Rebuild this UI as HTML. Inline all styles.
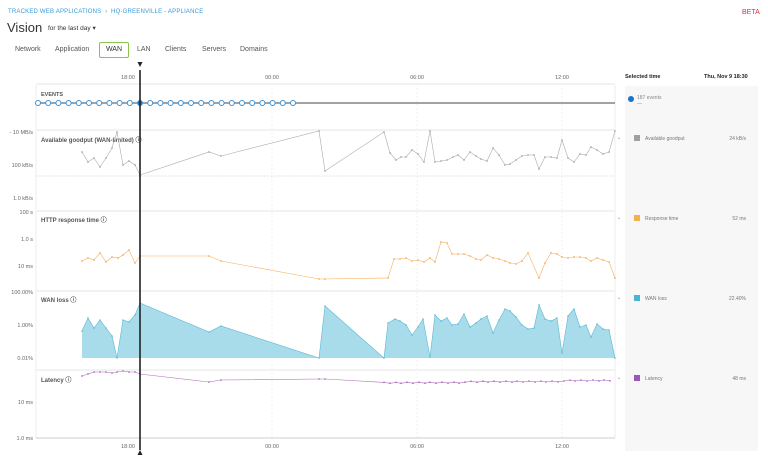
<!DOCTYPE html>
<html><head><meta charset="utf-8"><style>
body{margin:0;width:768px;height:465px;background:#fff;font-family:"Liberation Sans",sans-serif;overflow:hidden;position:relative}
.t{position:absolute;white-space:nowrap}
</style></head><body>
<div class="t" style="left:8px;top:9px;font-size:6px;color:#3a9ad9;letter-spacing:.2px">TRACKED WEB APPLICATIONS &nbsp;›&nbsp; HQ-GREENVILLE - APPLIANCE</div>
<div class="t" style="left:742px;top:9px;font-size:7px;color:#d9303a">BETA</div>
<div class="t" style="left:7px;top:20px;font-size:13px;color:#333">Vision</div>
<div class="t" style="left:48px;top:24px;font-size:6.5px;color:#333">for the last day ▾</div>
<div class="t" style="left:15px;top:46px;font-size:7px;color:#555">Network</div>
<div class="t" style="left:55px;top:46px;font-size:7px;color:#555">Application</div>
<div class="t" style="left:99px;top:42px;width:28px;height:14px;border:1px solid #8bc34a;border-radius:2px;font-size:7px;color:#333;text-align:center;line-height:14px">WAN</div>
<div class="t" style="left:137px;top:46px;font-size:7px;color:#555">LAN</div>
<div class="t" style="left:165px;top:46px;font-size:7px;color:#555">Clients</div>
<div class="t" style="left:202px;top:46px;font-size:7px;color:#555">Servers</div>
<div class="t" style="left:240px;top:46px;font-size:7px;color:#555">Domains</div>
<div class="t" style="left:625px;top:86px;width:133px;height:365px;background:#f7f7f7"></div>
<div class="t" style="left:625px;top:74px;font-size:5.5px;font-weight:bold;color:#222">Selected time</div>
<div class="t" style="left:704px;top:74px;font-size:5.5px;font-weight:bold;color:#222">Thu, Nov 9 18:30</div>
<svg id="s" width="768" height="465" style="position:absolute;left:0;top:0"></svg>
<script>
const P=[];
function add(s){P.push(s)}
[[84,107],[130,210],[211,278],[291,358],[370,438]].forEach(([a,b])=>{add(`<line x1="36" y1="${a}" x2="615" y2="${a}" stroke="#e6e6e6" stroke-width="1"/>`)});
add(`<line x1="36" y1="85" x2="36" y2="438" stroke="#eee"/><line x1="615" y1="85" x2="615" y2="438" stroke="#eee"/>`);
[272,417,562].forEach(x=>add(`<line x1="${x}" y1="84" x2="${x}" y2="438" stroke="#f0f0f0" stroke-dasharray="2,2"/>`));
add(`<line x1="36" y1="176" x2="615" y2="176" stroke="#bbb" stroke-dasharray="1.5,1.5" stroke-width=".6"/>`);
add(`<line x1="36" y1="438" x2="615" y2="438" stroke="#ccc"/>`);
const T=(x,y,s,a,c,fs,w)=>add(`<text x="${x}" y="${y}" font-size="${fs||5.5}" fill="${c||'#666'}" text-anchor="${a||'start'}" font-family="Liberation Sans" ${w?'font-weight="bold"':''}>${s}</text>`);
[[128,'18:00'],[272,'00:00'],[417,'06:00'],[562,'12:00']].forEach(([x,s])=>{T(x,79,s,'middle');T(x,448,s,'middle')});
T(33,134,'- 10 MB/s','end');T(33,167,'100 kB/s','end');T(33,200,'1.0 kB/s','end');
T(33,214,'100 s','end');T(33,241,'1.0 s','end');T(33,268,'10 ms','end');
T(33,294,'100.00%','end');T(33,327,'1.00%','end');T(33,360,'0.01%','end');
T(33,404,'10 ms','end');T(33,440,'1.0 ms','end');
T(41,96,'EVENTS','start','#555',5.5,1);
T(41,142,'Available goodput (WAN-limited) ⓘ','start','#555',6,1);
T(41,222,'HTTP response time ⓘ','start','#555',6,1);
T(41,302,'WAN loss ⓘ','start','#555',6,1);
T(41,382,'Latency ⓘ','start','#555',6,1);
add(`<line x1="36" y1="103" x2="615" y2="103" stroke="#444" stroke-width="1"/>`);
for(let i=0;i<26;i++){const x=38+i*10.2;add(`<circle cx="${x}" cy="103" r="2.5" fill="${Math.abs(x-140)<4?'#1a73c9':'#fff'}" stroke="#3a8fd6" stroke-width="1"/>`)}
function line(pts,c,dot){add(`<polyline points="${pts.map(p=>p.join(',')).join(' ')}" fill="none" stroke="${c}" stroke-width=".6"/>`);pts.forEach(p=>add(`<circle cx="${p[0]}" cy="${p[1]}" r="${dot||.9}" fill="${c}"/>`))}
const g=[[82,152],[88,162],[94,158],[100,167],[106,158],[112,148],[117,132],[123,165],[129,161],[135,165],[140,175],[209,152],[221,156],[319,131],[325,171],[384,132],[390,153],[396,160],[401,157],[406,157],[412,150],[418,154],[424,162],[430,131],[435,162],[441,161],[447,160],[453,157],[458,155],[464,160],[470,152],[476,156],[481,159],[487,161],[493,148],[499,155],[505,165],[510,164],[516,160],[522,156],[528,155],[534,155],[539,169],[545,157],[551,157],[557,158],[562,140],[568,158],[574,162],[580,154],[586,155],[591,147],[597,150],[603,154],[609,152],[615,131]];
line(g,'#aaa');
const h=[[82,261],[88,258],[94,260],[100,253],[106,262],[112,257],[118,258],[123,255],[129,250],[135,263],[140,256],[209,256],[221,261],[319,279],[325,279],[388,278],[394,259],[400,259],[406,258],[412,261],[418,260],[424,262],[430,258],[435,262],[441,242],[447,243],[452,254],[458,254],[464,254],[470,256],[476,259],[481,260],[487,255],[493,258],[499,259],[505,261],[510,263],[516,264],[522,261],[528,253],[539,278],[545,263],[551,253],[557,254],[562,257],[568,258],[574,257],[580,257],[586,258],[591,261],[597,258],[603,260],[609,262],[615,278]];
line(h,'#f5b060');
const w=[[82,331],[88,318],[94,328],[100,320],[106,328],[112,336],[117,358],[123,320],[129,322],[135,315],[140,303],[209,332],[221,326],[319,358],[325,306],[384,358],[388,323],[395,319],[400,321],[406,325],[412,335],[418,327],[423,319],[430,357],[435,315],[441,321],[447,318],[452,325],[458,324],[464,314],[470,327],[476,323],[481,319],[487,316],[493,333],[499,320],[505,309],[510,311],[516,317],[522,325],[528,329],[534,328],[539,305],[545,319],[551,321],[557,318],[562,353],[568,316],[574,309],[580,327],[586,325],[591,337],[597,324],[603,329],[609,330],[615,358]];
add(`<polygon points="82,358 ${w.map(p=>p.join(',')).join(' ')} 615,358" fill="#a8dcea"/>`);
line(w,'#5ab8d4',.8);
const l=[[82,376],[88,374],[94,372],[100,372],[106,372],[112,373],[117,372],[123,371],[129,372],[135,372],[140,374],[209,382],[221,380],[319,379],[325,379]];
for(let x=384;x<=615;x+=5.8){l.push([Math.round(x),+(383-(x-384)/231*3+((x*7)%3-1)*.6).toFixed(1)])}
line(l,'#b070c0',.9);
add(`<line x1="140" y1="70" x2="140" y2="450" stroke="#222" stroke-width="1.6"/>`);
add(`<polygon points="137.5,62 142.5,62 140,67" fill="#222"/><polygon points="137.5,455 142.5,455 140,450" fill="#222"/>`);
add(`<circle cx="631" cy="99" r="3" fill="#1a73c9"/>`);T(637,99,'187 events','start','#888',5);T(637,105,'—','start','#888',5);
[[138,'#a0a0a0','Available goodput','24 kB/s'],[218,'#f5b050','Response time','52 ms'],[298,'#48b5d5','WAN loss','22.40%'],[378,'#9b59b6','Latency','48 ms']].forEach(([y,c,n,v])=>{
add(`<rect x="634" y="${y-3}" width="6" height="6" fill="${c}"/>`);T(645,y+2,n,'start','#777',5);T(746,y+2,v,'end','#777',5);T(619,y+2,'•','middle','#999',5)});
document.getElementById('s').innerHTML=P.join('');
</script>
</body></html>
